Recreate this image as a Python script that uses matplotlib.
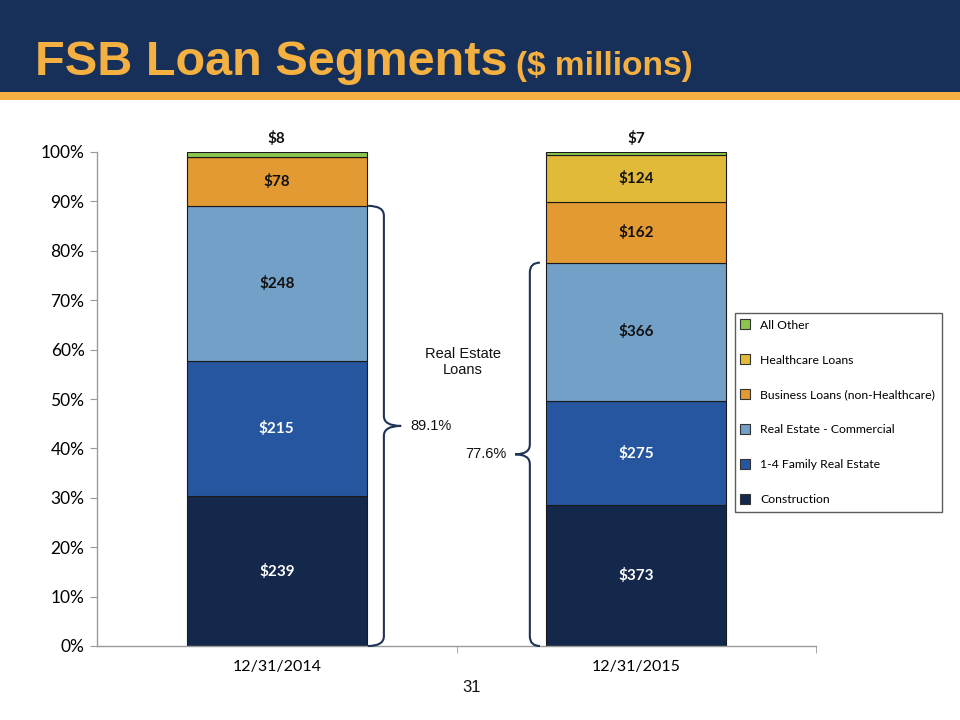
import matplotlib
matplotlib.use("Agg")
import matplotlib.pyplot as plt
from matplotlib.path import Path
from matplotlib.patches import PathPatch, Rectangle
from matplotlib.lines import Line2D
import numpy as np

categories = ["12/31/2014", "12/31/2015"]
segments = ["Construction", "1-4 Family Real Estate", "Real Estate - Commercial",
            "Business Loans (non-Healthcare)", "Healthcare Loans", "All Other"]
construction = [239, 373]
family_re = [215, 275]
re_commercial = [248, 366]
business = [78, 162]
healthcare = [0, 124]
all_other = [8, 7]
real_estate_pct = [89.1, 77.6]
yticks_labels = ["0%", "10%", "20%", "30%", "40%", "50%", "60%", "70%", "80%", "90%", "100%"]

colors = ["#13284B", "#2756A0", "#72A0C6", "#E39A32", "#E2BA3A", "#8CC64E"]
label_colors = ["white", "white", "#111111", "#111111", "#111111", "#111111"]

series = [construction, family_re, re_commercial, business, healthcare, all_other]
totals = np.sum(np.array(series), axis=0)

NAVY = "#16305A"
ORANGE = "#F5B042"
TICKFONT = ["Lato", "DejaVu Sans"]
ARIAL = ["Liberation Sans", "DejaVu Sans"]

fig = plt.figure(figsize=(9.6, 7.2), dpi=100)

# header band
fig.patches.append(Rectangle((0, 1 - 92 / 720), 1, 92 / 720, transform=fig.transFigure,
                             facecolor=NAVY, edgecolor="none", zorder=0))
fig.patches.append(Rectangle((0, 1 - 100 / 720), 1, 8 / 720, transform=fig.transFigure,
                             facecolor=ORANGE, edgecolor="none", zorder=0))
t1 = fig.text(35 / 960, 1 - 75 / 720, "FSB Loan Segments", color=ORANGE,
              fontsize=35, fontweight="bold", family=["Liberation Sans"],
              ha="left", va="baseline")
fig.canvas.draw()
bb = t1.get_window_extent()
fig.text(bb.x1 / 960 + 8 / 960, 1 - 75 / 720, "($ millions)", color=ORANGE,
         fontsize=24, fontweight="bold", family=["Liberation Sans"],
         ha="left", va="baseline")

ax = fig.add_axes([97 / 960, 74 / 720, (816 - 97) / 960, (646 - 152) / 720])
x = np.arange(len(categories))
bottom = np.zeros(len(categories))
for vals, col, lc, name in zip(series, colors, label_colors, segments):
    frac = np.array(vals) / totals
    ax.bar(x, frac, width=0.5, bottom=bottom, color=col, edgecolor="#1a1a1a",
           linewidth=0.8, label=name, zorder=2)
    for i, v in enumerate(vals):
        if v == 0:
            continue
        if name == "All Other":
            ax.annotate(f"${v}", (x[i], 1.0), xytext=(0, 4), textcoords="offset points",
                        ha="center", va="bottom", fontsize=11, fontweight="bold",
                        family=TICKFONT, color="#111111")
        else:
            ax.text(x[i], bottom[i] + frac[i] / 2, f"${v}", ha="center", va="center",
                    fontsize=11, fontweight="bold", family=TICKFONT, color=lc, zorder=3)
    bottom += frac

ax.set_xlim(-0.5, 1.5)
ax.set_ylim(0, 1)
ax.set_yticks(np.linspace(0, 1, 11))
ax.set_yticklabels(yticks_labels, family=TICKFONT, fontsize=12.5)
ax.set_xticks(x)
ax.set_xticklabels(categories, family=TICKFONT, fontsize=11.5)
ax.set_xticks([0.5, 1.5], minor=True)
ax.tick_params(axis="x", which="major", length=0, pad=10)
ax.tick_params(axis="x", which="minor", length=5, color="#9a9a9a", direction="out")
ax.tick_params(axis="y", length=5, color="#9a9a9a", direction="out", pad=4)
for s in ["top", "right"]:
    ax.spines[s].set_visible(False)
for s in ["left", "bottom"]:
    ax.spines[s].set_color("#9a9a9a")
    ax.spines[s].set_linewidth(1.0)


def brace(ax, x_edge, x_body, x_tip, y0, y1, r=0.02):
    ym = (y0 + y1) / 2
    verts = [
        (x_edge, y1),
        (x_body, y1), (x_body, y1 - r),
        (x_body, ym + r),
        (x_body, ym), (x_tip, ym),
        (x_body, ym), (x_body, ym - r),
        (x_body, y0 + r),
        (x_body, y0), (x_edge, y0),
    ]
    codes = [Path.MOVETO,
             Path.CURVE3, Path.CURVE3,
             Path.LINETO,
             Path.CURVE3, Path.CURVE3,
             Path.CURVE3, Path.CURVE3,
             Path.LINETO,
             Path.CURVE3, Path.CURVE3]
    ax.add_patch(PathPatch(Path(verts, codes), fill=False, edgecolor="#1F3356",
                           linewidth=1.5, clip_on=False, zorder=4))
    return ym


ym1 = brace(ax, 0.254, 0.298, 0.346, 0.0, real_estate_pct[0] / 100)
ax.text(0.371, ym1, f"{real_estate_pct[0]}%", ha="left", va="center", fontsize=10.5,
        family=ARIAL, color="#111111")
ym2 = brace(ax, 0.732, 0.704, 0.663, 0.0, real_estate_pct[1] / 100)
ax.text(0.638, ym2, f"{real_estate_pct[1]}%", ha="right", va="center", fontsize=10.5,
        family=ARIAL, color="#111111")
ax.text(0.518, 0.575, "Real Estate\nLoans", ha="center", va="center", fontsize=10.5,
        family=ARIAL, color="#111111", linespacing=1.1)

handles = [Line2D([], [], marker="s", linestyle="none", markersize=6.5,
                  markerfacecolor=c, markeredgecolor="#333333", markeredgewidth=0.8)
           for c in colors]
leg = fig.legend(handles[::-1], segments[::-1], loc="upper left",
                 bbox_to_anchor=(735 / 960, 1 - 313 / 720), frameon=True, fancybox=False,
                 prop={"family": TICKFONT, "size": 8.8}, labelspacing=1.95,
                 handletextpad=1.0, borderpad=0.55, handlelength=0.5, borderaxespad=0)
leg.get_frame().set_edgecolor("#333333")
leg.get_frame().set_linewidth(1.0)

fig.text(472 / 960, 1 - 688 / 720, "31", ha="center", va="center", fontsize=12,
         family=ARIAL, color="#111111")

fig.savefig("out.png", dpi=100)
